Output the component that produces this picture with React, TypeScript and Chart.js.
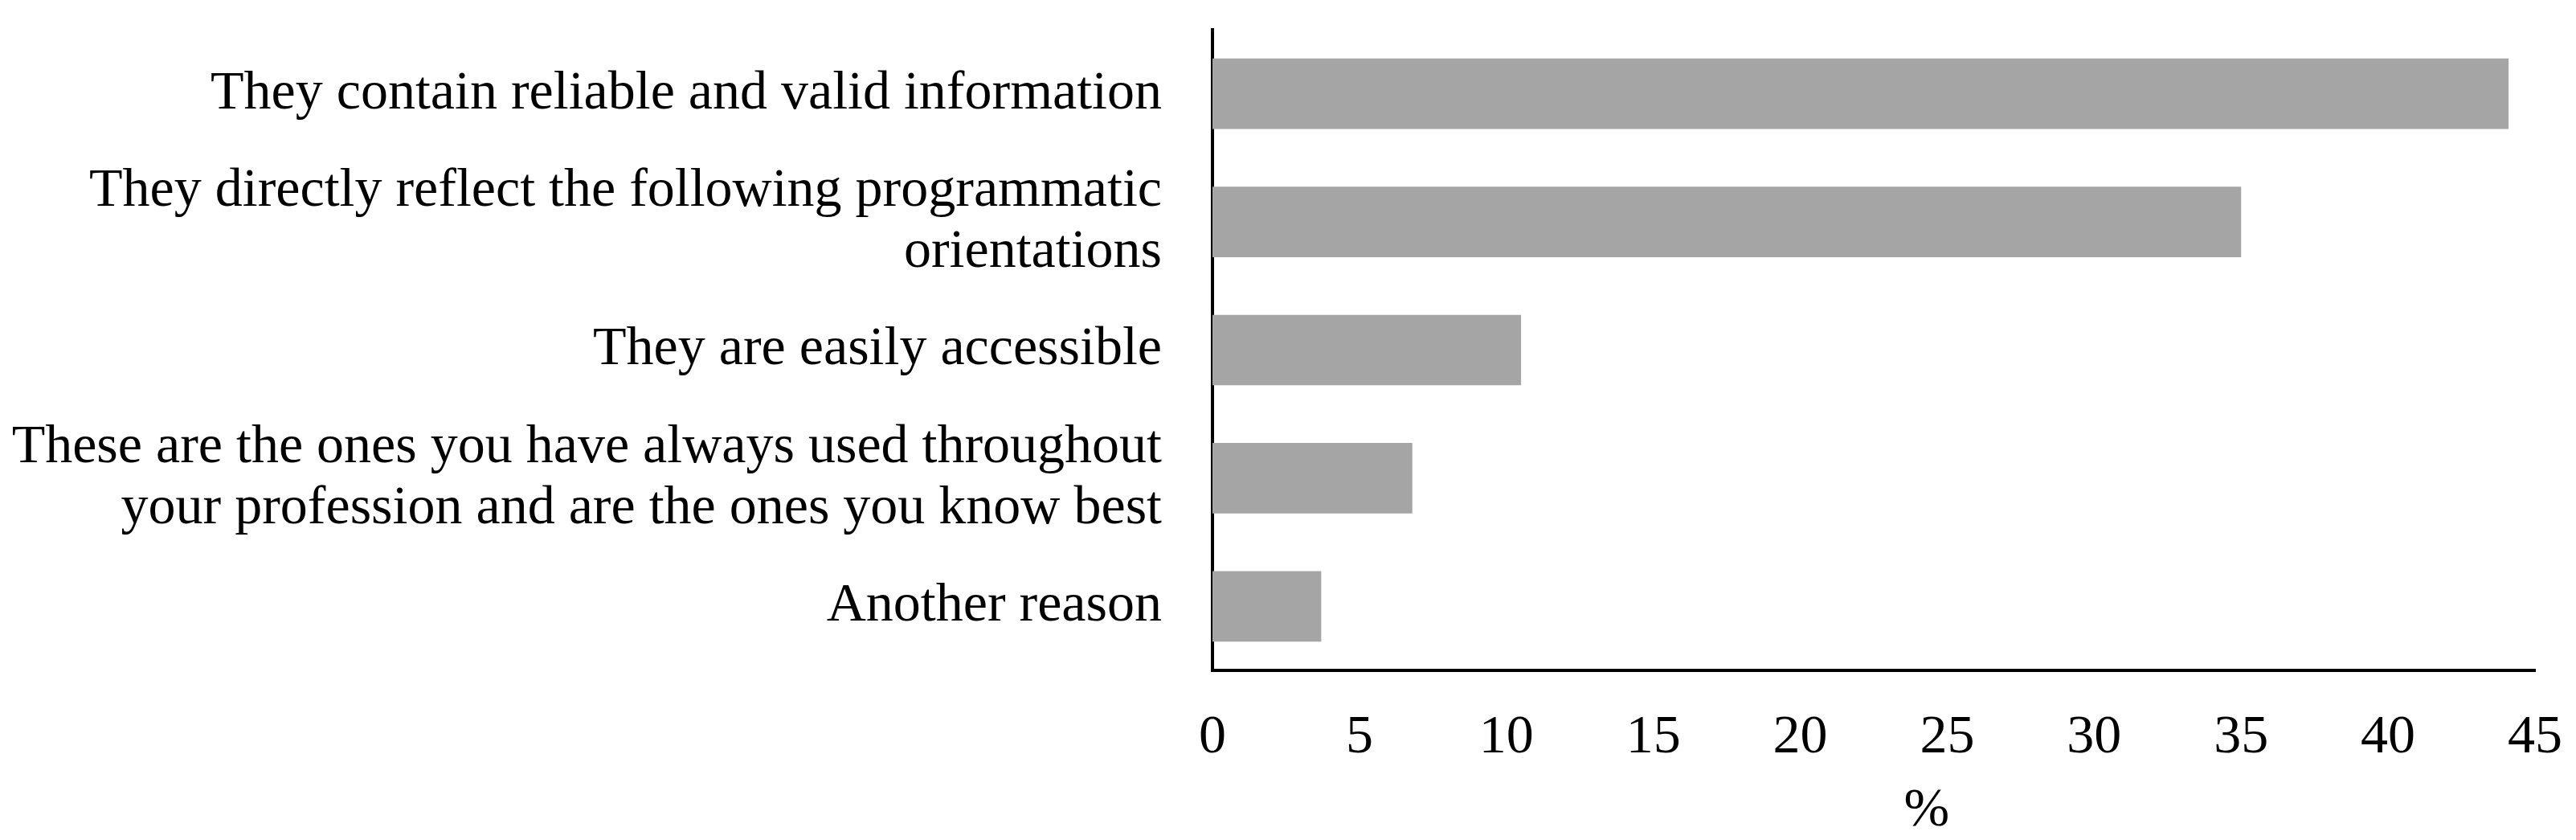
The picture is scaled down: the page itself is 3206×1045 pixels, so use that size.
import React, { useEffect, useRef } from "react";
import { Chart, registerables } from "chart.js";

Chart.register(...registerables);

const categories: (string | string[])[] = [
  "They contain reliable and valid information",
  ["They directly reflect the following programmatic", "orientations"],
  "They are easily accessible",
  ["These are the ones you have always used throughout", "your profession and are the ones you know best"],
  "Another reason",
];
const percentValues: number[] = [44.1, 35.0, 10.5, 6.8, 3.7];
const xTickMin = 0;
const xTickMax = 45;
const xTickStep = 5;
const xAxisTitle = "%";

const FONT = "'Liberation Serif', 'Times New Roman', serif";
const FS = 68;

const xTitlePlugin = {
  id: "xTitleOffset",
  afterDraw(chart: any) {
    const s = chart.scales.x;
    const ctx = chart.ctx;
    ctx.save();
    ctx.font = `${FS}px ${FONT}`;
    ctx.fillStyle = "#000";
    ctx.textAlign = "center";
    ctx.textBaseline = "middle";
    const cx = s.left + (s.right - s.left) * 0.54;
    ctx.fillText(xAxisTitle, cx, s.bottom - 36);
    ctx.restore();
  },
};

export default function App() {
  const ref = useRef<HTMLCanvasElement | null>(null);
  useEffect(() => {
    if (!ref.current) return;
    const chart = new Chart(ref.current, {
      type: "bar",
      data: {
        labels: categories,
        datasets: [
          {
            data: percentValues,
            backgroundColor: "#a5a5a5",
            borderWidth: 0,
            barPercentage: 0.55,
            categoryPercentage: 1,
          },
        ],
      },
      plugins: [xTitlePlugin],
      options: {
        indexAxis: "y",
        animation: false,
        responsive: false,
        maintainAspectRatio: false,
        layout: { padding: { left: 0, top: 37, right: 51, bottom: 0 } },
        plugins: { legend: { display: false }, tooltip: { enabled: false } },
        scales: {
          x: {
            type: "linear",
            min: xTickMin,
            max: xTickMax,
            grid: { display: false, drawTicks: false },
            border: { display: true, color: "#000", width: 4 },
            ticks: {
              stepSize: xTickStep,
              padding: 43,
              color: "#000",
              font: { family: FONT, size: FS, lineHeight: 1.2 },
            },
            title: { display: false },
            afterFit: (scale: any) => {
              scale.height = 211;
              scale.paddingLeft = 0;
              scale.paddingRight = 0;
            },
          },
          y: {
            type: "category",
            grid: { display: false, drawTicks: false },
            border: { display: true, color: "#000", width: 4 },
            ticks: {
              autoSkip: false,
              padding: 63,
              color: "#000",
              font: { family: FONT, size: FS, lineHeight: 1.12 },
            },
            afterFit: (scale: any) => {
              scale.width = 1509;
              scale.paddingTop = 0;
              scale.paddingBottom = 0;
            },
          },
        },
      },
    });
    return () => chart.destroy();
  }, []);
  return (
    <div style={{ position: "fixed", left: 0, top: 0, width: 3206, height: 1045, background: "#fff" }}>
      <canvas ref={ref} width={3206} height={1045} style={{ width: 3206, height: 1045, display: "block" }} />
    </div>
  );
}
